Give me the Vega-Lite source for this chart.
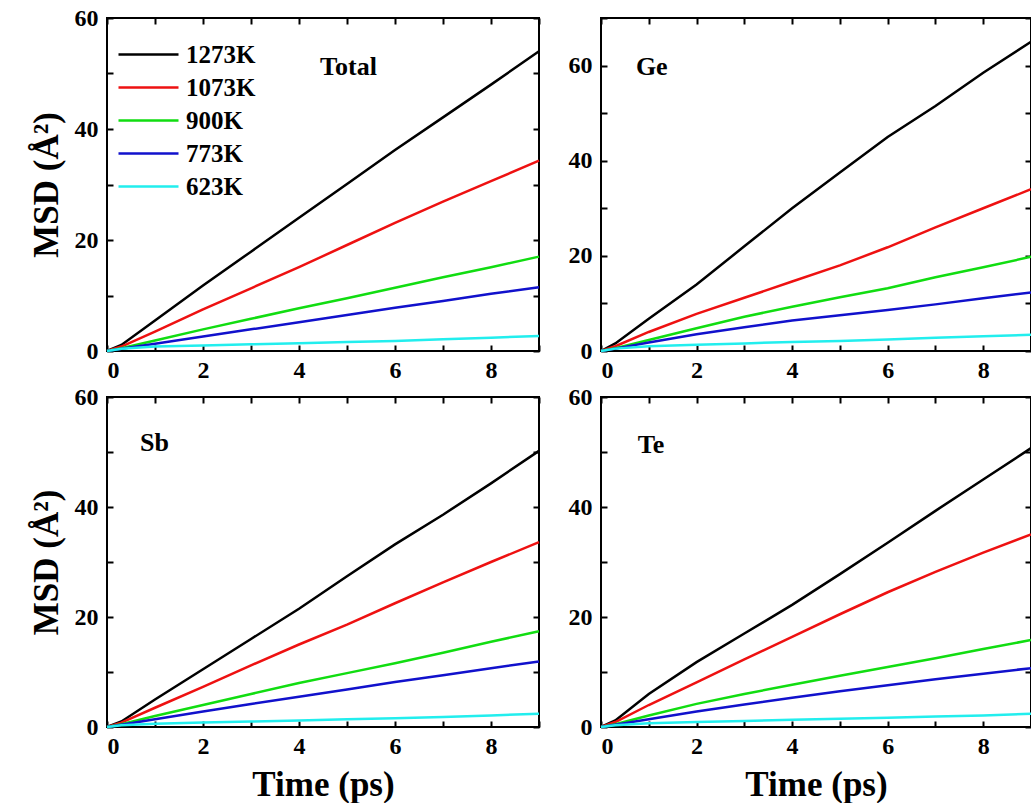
{
  "$schema": "https://vega.github.io/schema/vega-lite/v6.json",
  "background": "white",
  "padding": {"left": 28, "top": 5, "right": 0, "bottom": 0},
  "config": {
    "font": "Liberation Serif",
    "view": {"stroke": "black", "strokeWidth": 2},
    "axis": {
      "grid": false,
      "domain": false,
      "offset": -6,
      "tickColor": "black",
      "tickWidth": 2,
      "tickSize": 6,
      "labelPadding": 7,
      "labelFont": "Liberation Serif",
      "labelFontSize": 24,
      "labelFontWeight": "bold",
      "labelColor": "black",
      "titleFont": "Liberation Serif",
      "titleFontSize": 35,
      "titleFontWeight": "bold",
      "titleColor": "black"
    },
    "axisLeft": {"labelPadding": 9, "titlePadding": 10},
    "legend": {
      "labelFont": "Liberation Serif",
      "labelFontSize": 25,
      "labelFontWeight": "bold",
      "labelColor": "black"
    }
  },
  "datasets": {
    "msd": [
      {"p":"Total","T":"1273K","t":0,"m":0},{"p":"Total","T":"1273K","t":0.3,"m":1.1},{"p":"Total","T":"1273K","t":1,"m":5.5},{"p":"Total","T":"1273K","t":2,"m":11.8},{"p":"Total","T":"1273K","t":3,"m":17.9},{"p":"Total","T":"1273K","t":4,"m":24.0},{"p":"Total","T":"1273K","t":5,"m":30.1},{"p":"Total","T":"1273K","t":6,"m":36.2},{"p":"Total","T":"1273K","t":7,"m":42.1},{"p":"Total","T":"1273K","t":8,"m":48.0},{"p":"Total","T":"1273K","t":9,"m":54.0},
      {"p":"Total","T":"1073K","t":0,"m":0},{"p":"Total","T":"1073K","t":0.3,"m":0.8},{"p":"Total","T":"1073K","t":1,"m":3.5},{"p":"Total","T":"1073K","t":2,"m":7.5},{"p":"Total","T":"1073K","t":3,"m":11.3},{"p":"Total","T":"1073K","t":4,"m":15.1},{"p":"Total","T":"1073K","t":5,"m":19.1},{"p":"Total","T":"1073K","t":6,"m":23.1},{"p":"Total","T":"1073K","t":7,"m":26.9},{"p":"Total","T":"1073K","t":8,"m":30.6},{"p":"Total","T":"1073K","t":9,"m":34.3},
      {"p":"Total","T":"900K","t":0,"m":0},{"p":"Total","T":"900K","t":0.3,"m":0.5},{"p":"Total","T":"900K","t":1,"m":1.9},{"p":"Total","T":"900K","t":2,"m":3.9},{"p":"Total","T":"900K","t":3,"m":5.8},{"p":"Total","T":"900K","t":4,"m":7.7},{"p":"Total","T":"900K","t":5,"m":9.5},{"p":"Total","T":"900K","t":6,"m":11.4},{"p":"Total","T":"900K","t":7,"m":13.3},{"p":"Total","T":"900K","t":8,"m":15.1},{"p":"Total","T":"900K","t":9,"m":17.0},
      {"p":"Total","T":"773K","t":0,"m":0},{"p":"Total","T":"773K","t":0.3,"m":0.4},{"p":"Total","T":"773K","t":1,"m":1.3},{"p":"Total","T":"773K","t":2,"m":2.6},{"p":"Total","T":"773K","t":3,"m":3.9},{"p":"Total","T":"773K","t":4,"m":5.2},{"p":"Total","T":"773K","t":5,"m":6.5},{"p":"Total","T":"773K","t":6,"m":7.8},{"p":"Total","T":"773K","t":7,"m":9.0},{"p":"Total","T":"773K","t":8,"m":10.3},{"p":"Total","T":"773K","t":9,"m":11.5},
      {"p":"Total","T":"623K","t":0,"m":0},{"p":"Total","T":"623K","t":0.3,"m":0.4},{"p":"Total","T":"623K","t":1,"m":0.8},{"p":"Total","T":"623K","t":2,"m":1.0},{"p":"Total","T":"623K","t":3,"m":1.2},{"p":"Total","T":"623K","t":4,"m":1.4},{"p":"Total","T":"623K","t":5,"m":1.6},{"p":"Total","T":"623K","t":6,"m":1.8},{"p":"Total","T":"623K","t":7,"m":2.1},{"p":"Total","T":"623K","t":8,"m":2.4},{"p":"Total","T":"623K","t":9,"m":2.7},

      {"p":"Ge","T":"1273K","t":0,"m":0},{"p":"Ge","T":"1273K","t":0.3,"m":1.6},{"p":"Ge","T":"1273K","t":1,"m":6.8},{"p":"Ge","T":"1273K","t":2,"m":14.0},{"p":"Ge","T":"1273K","t":3,"m":22.0},{"p":"Ge","T":"1273K","t":4,"m":30.0},{"p":"Ge","T":"1273K","t":5,"m":37.5},{"p":"Ge","T":"1273K","t":6,"m":45.0},{"p":"Ge","T":"1273K","t":7,"m":51.5},{"p":"Ge","T":"1273K","t":8,"m":58.5},{"p":"Ge","T":"1273K","t":9,"m":65.0},
      {"p":"Ge","T":"1073K","t":0,"m":0},{"p":"Ge","T":"1073K","t":0.3,"m":1.0},{"p":"Ge","T":"1073K","t":1,"m":4.0},{"p":"Ge","T":"1073K","t":2,"m":7.8},{"p":"Ge","T":"1073K","t":3,"m":11.2},{"p":"Ge","T":"1073K","t":4,"m":14.6},{"p":"Ge","T":"1073K","t":5,"m":18.0},{"p":"Ge","T":"1073K","t":6,"m":21.8},{"p":"Ge","T":"1073K","t":7,"m":26.0},{"p":"Ge","T":"1073K","t":8,"m":30.0},{"p":"Ge","T":"1073K","t":9,"m":34.0},
      {"p":"Ge","T":"900K","t":0,"m":0},{"p":"Ge","T":"900K","t":0.3,"m":0.6},{"p":"Ge","T":"900K","t":1,"m":2.3},{"p":"Ge","T":"900K","t":2,"m":4.8},{"p":"Ge","T":"900K","t":3,"m":7.2},{"p":"Ge","T":"900K","t":4,"m":9.3},{"p":"Ge","T":"900K","t":5,"m":11.3},{"p":"Ge","T":"900K","t":6,"m":13.2},{"p":"Ge","T":"900K","t":7,"m":15.5},{"p":"Ge","T":"900K","t":8,"m":17.6},{"p":"Ge","T":"900K","t":9,"m":19.8},
      {"p":"Ge","T":"773K","t":0,"m":0},{"p":"Ge","T":"773K","t":0.3,"m":0.5},{"p":"Ge","T":"773K","t":1,"m":1.8},{"p":"Ge","T":"773K","t":2,"m":3.5},{"p":"Ge","T":"773K","t":3,"m":5.0},{"p":"Ge","T":"773K","t":4,"m":6.4},{"p":"Ge","T":"773K","t":5,"m":7.5},{"p":"Ge","T":"773K","t":6,"m":8.6},{"p":"Ge","T":"773K","t":7,"m":9.8},{"p":"Ge","T":"773K","t":8,"m":11.1},{"p":"Ge","T":"773K","t":9,"m":12.3},
      {"p":"Ge","T":"623K","t":0,"m":0},{"p":"Ge","T":"623K","t":0.3,"m":0.5},{"p":"Ge","T":"623K","t":1,"m":1.0},{"p":"Ge","T":"623K","t":2,"m":1.3},{"p":"Ge","T":"623K","t":3,"m":1.6},{"p":"Ge","T":"623K","t":4,"m":1.9},{"p":"Ge","T":"623K","t":5,"m":2.1},{"p":"Ge","T":"623K","t":6,"m":2.4},{"p":"Ge","T":"623K","t":7,"m":2.8},{"p":"Ge","T":"623K","t":8,"m":3.1},{"p":"Ge","T":"623K","t":9,"m":3.4},

      {"p":"Sb","T":"1273K","t":0,"m":0},{"p":"Sb","T":"1273K","t":0.3,"m":1.0},{"p":"Sb","T":"1273K","t":1,"m":5.0},{"p":"Sb","T":"1273K","t":2,"m":10.5},{"p":"Sb","T":"1273K","t":3,"m":16.0},{"p":"Sb","T":"1273K","t":4,"m":21.5},{"p":"Sb","T":"1273K","t":5,"m":27.4},{"p":"Sb","T":"1273K","t":6,"m":33.2},{"p":"Sb","T":"1273K","t":7,"m":38.6},{"p":"Sb","T":"1273K","t":8,"m":44.3},{"p":"Sb","T":"1273K","t":9,"m":50.2},
      {"p":"Sb","T":"1073K","t":0,"m":0},{"p":"Sb","T":"1073K","t":0.3,"m":0.8},{"p":"Sb","T":"1073K","t":1,"m":3.5},{"p":"Sb","T":"1073K","t":2,"m":7.3},{"p":"Sb","T":"1073K","t":3,"m":11.2},{"p":"Sb","T":"1073K","t":4,"m":15.0},{"p":"Sb","T":"1073K","t":5,"m":18.6},{"p":"Sb","T":"1073K","t":6,"m":22.5},{"p":"Sb","T":"1073K","t":7,"m":26.3},{"p":"Sb","T":"1073K","t":8,"m":30.0},{"p":"Sb","T":"1073K","t":9,"m":33.6},
      {"p":"Sb","T":"900K","t":0,"m":0},{"p":"Sb","T":"900K","t":0.3,"m":0.5},{"p":"Sb","T":"900K","t":1,"m":2.0},{"p":"Sb","T":"900K","t":2,"m":4.0},{"p":"Sb","T":"900K","t":3,"m":6.0},{"p":"Sb","T":"900K","t":4,"m":8.0},{"p":"Sb","T":"900K","t":5,"m":9.8},{"p":"Sb","T":"900K","t":6,"m":11.6},{"p":"Sb","T":"900K","t":7,"m":13.5},{"p":"Sb","T":"900K","t":8,"m":15.5},{"p":"Sb","T":"900K","t":9,"m":17.4},
      {"p":"Sb","T":"773K","t":0,"m":0},{"p":"Sb","T":"773K","t":0.3,"m":0.4},{"p":"Sb","T":"773K","t":1,"m":1.4},{"p":"Sb","T":"773K","t":2,"m":2.8},{"p":"Sb","T":"773K","t":3,"m":4.2},{"p":"Sb","T":"773K","t":4,"m":5.5},{"p":"Sb","T":"773K","t":5,"m":6.8},{"p":"Sb","T":"773K","t":6,"m":8.2},{"p":"Sb","T":"773K","t":7,"m":9.4},{"p":"Sb","T":"773K","t":8,"m":10.7},{"p":"Sb","T":"773K","t":9,"m":11.9},
      {"p":"Sb","T":"623K","t":0,"m":0},{"p":"Sb","T":"623K","t":0.3,"m":0.3},{"p":"Sb","T":"623K","t":1,"m":0.6},{"p":"Sb","T":"623K","t":2,"m":0.8},{"p":"Sb","T":"623K","t":3,"m":1.0},{"p":"Sb","T":"623K","t":4,"m":1.2},{"p":"Sb","T":"623K","t":5,"m":1.4},{"p":"Sb","T":"623K","t":6,"m":1.6},{"p":"Sb","T":"623K","t":7,"m":1.8},{"p":"Sb","T":"623K","t":8,"m":2.1},{"p":"Sb","T":"623K","t":9,"m":2.4},

      {"p":"Te","T":"1273K","t":0,"m":0},{"p":"Te","T":"1273K","t":0.3,"m":1.2},{"p":"Te","T":"1273K","t":1,"m":6.0},{"p":"Te","T":"1273K","t":2,"m":11.8},{"p":"Te","T":"1273K","t":3,"m":17.0},{"p":"Te","T":"1273K","t":4,"m":22.2},{"p":"Te","T":"1273K","t":5,"m":27.8},{"p":"Te","T":"1273K","t":6,"m":33.5},{"p":"Te","T":"1273K","t":7,"m":39.3},{"p":"Te","T":"1273K","t":8,"m":45.0},{"p":"Te","T":"1273K","t":9,"m":50.7},
      {"p":"Te","T":"1073K","t":0,"m":0},{"p":"Te","T":"1073K","t":0.3,"m":0.9},{"p":"Te","T":"1073K","t":1,"m":4.0},{"p":"Te","T":"1073K","t":2,"m":8.1},{"p":"Te","T":"1073K","t":3,"m":12.3},{"p":"Te","T":"1073K","t":4,"m":16.4},{"p":"Te","T":"1073K","t":5,"m":20.5},{"p":"Te","T":"1073K","t":6,"m":24.5},{"p":"Te","T":"1073K","t":7,"m":28.2},{"p":"Te","T":"1073K","t":8,"m":31.7},{"p":"Te","T":"1073K","t":9,"m":35.0},
      {"p":"Te","T":"900K","t":0,"m":0},{"p":"Te","T":"900K","t":0.3,"m":0.5},{"p":"Te","T":"900K","t":1,"m":2.1},{"p":"Te","T":"900K","t":2,"m":4.2},{"p":"Te","T":"900K","t":3,"m":6.0},{"p":"Te","T":"900K","t":4,"m":7.7},{"p":"Te","T":"900K","t":5,"m":9.3},{"p":"Te","T":"900K","t":6,"m":10.9},{"p":"Te","T":"900K","t":7,"m":12.5},{"p":"Te","T":"900K","t":8,"m":14.2},{"p":"Te","T":"900K","t":9,"m":15.8},
      {"p":"Te","T":"773K","t":0,"m":0},{"p":"Te","T":"773K","t":0.3,"m":0.4},{"p":"Te","T":"773K","t":1,"m":1.4},{"p":"Te","T":"773K","t":2,"m":2.8},{"p":"Te","T":"773K","t":3,"m":4.1},{"p":"Te","T":"773K","t":4,"m":5.3},{"p":"Te","T":"773K","t":5,"m":6.5},{"p":"Te","T":"773K","t":6,"m":7.6},{"p":"Te","T":"773K","t":7,"m":8.7},{"p":"Te","T":"773K","t":8,"m":9.7},{"p":"Te","T":"773K","t":9,"m":10.7},
      {"p":"Te","T":"623K","t":0,"m":0},{"p":"Te","T":"623K","t":0.3,"m":0.3},{"p":"Te","T":"623K","t":1,"m":0.7},{"p":"Te","T":"623K","t":2,"m":0.9},{"p":"Te","T":"623K","t":3,"m":1.1},{"p":"Te","T":"623K","t":4,"m":1.3},{"p":"Te","T":"623K","t":5,"m":1.5},{"p":"Te","T":"623K","t":6,"m":1.7},{"p":"Te","T":"623K","t":7,"m":1.9},{"p":"Te","T":"623K","t":8,"m":2.1},{"p":"Te","T":"623K","t":9,"m":2.4}
    ]
  },
  "columns": 2,
  "spacing": {"row": 46, "column": 62},
  "bounds": "flush",
  "resolve": {"legend": {"color": "independent"}},
  "concat": [
    {
      "width": 432, "height": 333,
      "resolve": {"axis": {"x": "independent", "y": "independent"}},
      "layer": [
        {
          "data": {"name": "msd"},
          "transform": [{"filter": "datum.p === 'Total'"}],
          "mark": {"type": "line", "strokeWidth": 2.5},
          "encoding": {
            "x": {"field": "t", "type": "quantitative", "scale": {"domain": [0, 9], "nice": false},
              "axis": {"orient": "bottom", "values": [0,1,2,3,4,5,6,7,8,9], "labelExpr": "datum.value % 2 ? '' : datum.label", "title": null}},
            "y": {"field": "m", "type": "quantitative", "scale": {"domain": [0, 60], "nice": false},
              "axis": {"orient": "left", "values": [0,10,20,30,40,50,60], "labelExpr": "datum.value % 20 ? '' : datum.label", "title": "MSD (Å²)"}},
            "color": {"field": "T", "type": "nominal",
              "scale": {"domain": ["1273K","1073K","900K","773K","623K"], "range": ["#000000","#ee1111","#11dd11","#1111cc","#22eeee"]},
              "legend": {"orient": "none", "legendX": 10, "legendY": 20, "title": null, "symbolType": "stroke", "symbolSize": 3600, "symbolStrokeWidth": 2.5, "clipHeight": 33, "rowPadding": 0, "padding": 0, "labelOffset": 6}}
          }
        },
        {
          "data": {"values": [{"label": "Total", "t": 4.44, "m": 51.2}]},
          "mark": {"type": "text", "align": "left", "baseline": "middle", "fontSize": 26, "fontWeight": "bold", "font": "Liberation Serif", "color": "black"},
          "encoding": {
            "x": {"field": "t", "type": "quantitative", "scale": {"domain": [0, 9], "nice": false},
              "axis": {"orient": "top", "values": [0,1,2,3,4,5,6,7,8,9], "labels": false, "title": null}},
            "y": {"field": "m", "type": "quantitative", "scale": {"domain": [0, 60], "nice": false},
              "axis": {"orient": "right", "values": [0,10,20,30,40,50,60], "labels": false, "title": null}},
            "text": {"field": "label"}
          }
        }
      ]
    },
    {
      "width": 430, "height": 333,
      "resolve": {"axis": {"x": "independent", "y": "independent"}},
      "layer": [
        {
          "data": {"name": "msd"},
          "transform": [{"filter": "datum.p === 'Ge'"}],
          "mark": {"type": "line", "strokeWidth": 2.5},
          "encoding": {
            "x": {"field": "t", "type": "quantitative", "scale": {"domain": [0, 9], "nice": false},
              "axis": {"orient": "bottom", "values": [0,1,2,3,4,5,6,7,8,9], "labelExpr": "datum.value % 2 ? '' : datum.label", "title": null}},
            "y": {"field": "m", "type": "quantitative", "scale": {"domain": [0, 70], "nice": false},
              "axis": {"orient": "left", "values": [0,10,20,30,40,50,60,70], "labelExpr": "datum.value % 20 ? '' : datum.label", "title": null}},
            "color": {"field": "T", "type": "nominal",
              "scale": {"domain": ["1273K","1073K","900K","773K","623K"], "range": ["#000000","#ee1111","#11dd11","#1111cc","#22eeee"]},
              "legend": null}
          }
        },
        {
          "data": {"values": [{"label": "Ge", "t": 0.73, "m": 59.7}]},
          "mark": {"type": "text", "align": "left", "baseline": "middle", "fontSize": 26, "fontWeight": "bold", "font": "Liberation Serif", "color": "black"},
          "encoding": {
            "x": {"field": "t", "type": "quantitative", "scale": {"domain": [0, 9], "nice": false},
              "axis": {"orient": "top", "values": [0,1,2,3,4,5,6,7,8,9], "labels": false, "title": null}},
            "y": {"field": "m", "type": "quantitative", "scale": {"domain": [0, 70], "nice": false},
              "axis": {"orient": "right", "values": [0,10,20,30,40,50,60,70], "labels": false, "title": null}},
            "text": {"field": "label"}
          }
        }
      ]
    },
    {
      "width": 432, "height": 330,
      "resolve": {"axis": {"x": "independent", "y": "independent"}},
      "layer": [
        {
          "data": {"name": "msd"},
          "transform": [{"filter": "datum.p === 'Sb'"}],
          "mark": {"type": "line", "strokeWidth": 2.5},
          "encoding": {
            "x": {"field": "t", "type": "quantitative", "scale": {"domain": [0, 9], "nice": false},
              "axis": {"orient": "bottom", "values": [0,1,2,3,4,5,6,7,8,9], "labelExpr": "datum.value % 2 ? '' : datum.label", "title": "Time (ps)", "titlePadding": 9}},
            "y": {"field": "m", "type": "quantitative", "scale": {"domain": [0, 60], "nice": false},
              "axis": {"orient": "left", "values": [0,10,20,30,40,50,60], "labelExpr": "datum.value % 20 ? '' : datum.label", "title": "MSD (Å²)"}},
            "color": {"field": "T", "type": "nominal",
              "scale": {"domain": ["1273K","1073K","900K","773K","623K"], "range": ["#000000","#ee1111","#11dd11","#1111cc","#22eeee"]},
              "legend": null}
          }
        },
        {
          "data": {"values": [{"label": "Sb", "t": 0.69, "m": 51.6}]},
          "mark": {"type": "text", "align": "left", "baseline": "middle", "fontSize": 26, "fontWeight": "bold", "font": "Liberation Serif", "color": "black"},
          "encoding": {
            "x": {"field": "t", "type": "quantitative", "scale": {"domain": [0, 9], "nice": false},
              "axis": {"orient": "top", "values": [0,1,2,3,4,5,6,7,8,9], "labels": false, "title": null}},
            "y": {"field": "m", "type": "quantitative", "scale": {"domain": [0, 60], "nice": false},
              "axis": {"orient": "right", "values": [0,10,20,30,40,50,60], "labels": false, "title": null}},
            "text": {"field": "label"}
          }
        }
      ]
    },
    {
      "width": 430, "height": 330,
      "resolve": {"axis": {"x": "independent", "y": "independent"}},
      "layer": [
        {
          "data": {"name": "msd"},
          "transform": [{"filter": "datum.p === 'Te'"}],
          "mark": {"type": "line", "strokeWidth": 2.5},
          "encoding": {
            "x": {"field": "t", "type": "quantitative", "scale": {"domain": [0, 9], "nice": false},
              "axis": {"orient": "bottom", "values": [0,1,2,3,4,5,6,7,8,9], "labelExpr": "datum.value % 2 ? '' : datum.label", "title": "Time (ps)", "titlePadding": 9}},
            "y": {"field": "m", "type": "quantitative", "scale": {"domain": [0, 60], "nice": false},
              "axis": {"orient": "left", "values": [0,10,20,30,40,50,60], "labelExpr": "datum.value % 20 ? '' : datum.label", "title": null}},
            "color": {"field": "T", "type": "nominal",
              "scale": {"domain": ["1273K","1073K","900K","773K","623K"], "range": ["#000000","#ee1111","#11dd11","#1111cc","#22eeee"]},
              "legend": null}
          }
        },
        {
          "data": {"values": [{"label": "Te", "t": 0.77, "m": 51.3}]},
          "mark": {"type": "text", "align": "left", "baseline": "middle", "fontSize": 26, "fontWeight": "bold", "font": "Liberation Serif", "color": "black"},
          "encoding": {
            "x": {"field": "t", "type": "quantitative", "scale": {"domain": [0, 9], "nice": false},
              "axis": {"orient": "top", "values": [0,1,2,3,4,5,6,7,8,9], "labels": false, "title": null}},
            "y": {"field": "m", "type": "quantitative", "scale": {"domain": [0, 60], "nice": false},
              "axis": {"orient": "right", "values": [0,10,20,30,40,50,60], "labels": false, "title": null}},
            "text": {"field": "label"}
          }
        }
      ]
    }
  ]
}
